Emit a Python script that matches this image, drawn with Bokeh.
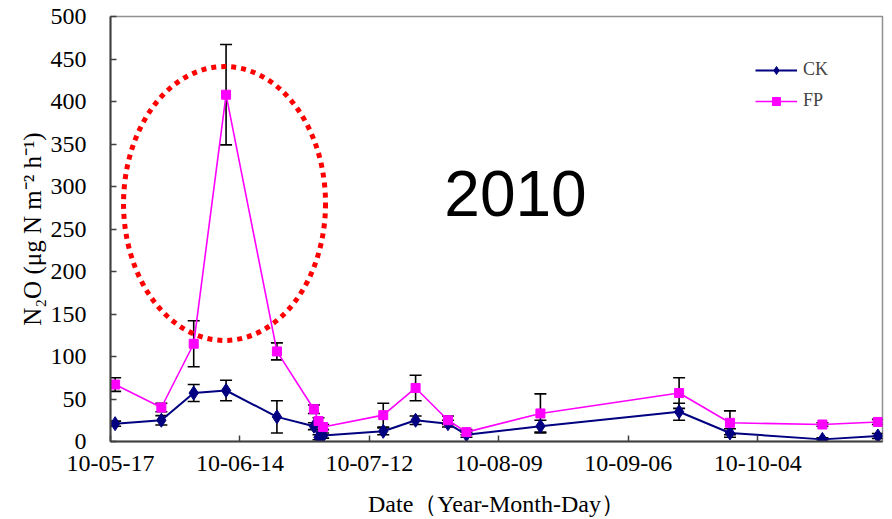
import pandas as pd
from bokeh.plotting import figure
from bokeh.models import (ColumnDataSource, Whisker, TeeHead, FixedTicker,
                          DatetimeTickFormatter, Legend, LegendItem, Label, Range1d)
from bokeh.embed import file_html
from bokeh.resources import INLINE

# ---- data ----
dates = ["2010-05-18", "2010-05-28", "2010-06-04", "2010-06-11", "2010-06-22",
         "2010-06-30", "2010-07-01", "2010-07-02", "2010-07-15", "2010-07-22",
         "2010-07-29", "2010-08-02", "2010-08-18", "2010-09-17", "2010-09-28",
         "2010-10-18", "2010-10-30"]
ck = [21, 25, 57, 60, 29, 18, 5, 7, 12, 25, 21, 8, 18, 35, 10, 2.5, 6.5]
ck_err = [3, 5.5, 10, 12, 19, 4, 3, 3, 4, 5, 4, 3, 7, 10, 5, 2, 3]
fp = [67, 40, 115, 408, 106, 38, 24, 17, 31, 63, 25, 11, 33, 57, 22, 20, 23]
fp_err = [8, 5, 27, 59, 10, 5, 4, 3, 14, 15, 5, 3, 23, 18, 14, 2, 3]
tick_dates = ["2010-05-17", "2010-06-14", "2010-07-12", "2010-08-09",
              "2010-09-06", "2010-10-04"]
x_start, x_end = "2010-05-17", "2010-10-31"
y_ticks = list(range(0, 501, 50))


def ms(s):
    return pd.Timestamp(s).timestamp() * 1000.0


xd = [pd.Timestamp(d) for d in dates]
src_ck = ColumnDataSource(dict(x=xd, y=ck,
                               lo=[v - e for v, e in zip(ck, ck_err)],
                               hi=[v + e for v, e in zip(ck, ck_err)]))
src_fp = ColumnDataSource(dict(x=xd, y=fp,
                               lo=[v - e for v, e in zip(fp, fp_err)],
                               hi=[v + e for v, e in zip(fp, fp_err)]))

SERIF = "Liberation Serif"

p = figure(frame_width=772, frame_height=425, x_axis_type="datetime",
           x_range=Range1d(ms(x_start), ms(x_end)), y_range=Range1d(0, 500),
           output_backend="svg", toolbar_location=None,
           min_border_left=110, min_border_top=16, min_border_right=8,
           min_border_bottom=78)
p.background_fill_color = "white"
p.border_fill_color = "white"
p.outline_line_color = "#909090"
p.outline_line_width = 1.5
p.xgrid.visible = False
p.ygrid.visible = False

for ax in (p.xaxis[0], p.yaxis[0]):
    ax.axis_line_color = "#404040"
    ax.axis_line_width = 2
    ax.major_tick_line_color = "#404040"
    ax.major_tick_line_width = 1.5
    ax.major_tick_in = 6
    ax.major_tick_out = 0
    ax.minor_tick_line_color = None
    ax.major_label_text_font = SERIF
    ax.major_label_text_font_size = "24px"
    ax.major_label_text_color = "black"
    ax.axis_label_text_font = SERIF
    ax.axis_label_text_font_style = "normal"
    ax.axis_label_text_color = "black"

p.xaxis.ticker = FixedTicker(ticks=[ms(t) for t in tick_dates])
fmt = "%y-%m-%d"
p.xaxis.formatter = DatetimeTickFormatter(days=fmt, months=fmt, years=fmt,
                                          hours=fmt, hourmin=fmt)
p.xaxis.major_label_standoff = 14
p.xaxis.axis_label = "Date（Year-Month-Day）"
p.xaxis.axis_label_text_font_size = "24px"
p.xaxis.axis_label_standoff = 17

p.yaxis.ticker = FixedTicker(ticks=y_ticks)
p.yaxis.major_label_standoff = 24
p.yaxis.axis_label = "N₂O (μg N m⁻² h⁻¹)"
p.yaxis.axis_label_text_font_size = "25px"
p.yaxis.axis_label_standoff = 2

# error bars
for src in (src_ck, src_fp):
    w = Whisker(base="x", upper="hi", lower="lo", source=src, dimension="height",
                line_color="black", line_width=1.6, level="underlay",
                upper_head=TeeHead(size=12, line_color="black", line_width=1.6),
                lower_head=TeeHead(size=12, line_color="black", line_width=1.6))
    p.add_layout(w)

NAVY = "#000080"
MAG = "#FF00FF"
l_ck = p.line("x", "y", source=src_ck, line_color=NAVY, line_width=2)
m_ck = p.scatter("x", "y", source=src_ck, marker="diamond",
                 size=14, fill_color=NAVY, line_color=NAVY)
l_fp = p.line("x", "y", source=src_fp, line_color=MAG, line_width=1.6)
m_fp = p.scatter("x", "y", source=src_fp, marker="square", size=9,
                 fill_color=MAG, line_color=MAG)

# dotted red ellipse highlighting the peak
p.ellipse(x=[pd.Timestamp("2010-06-10 16:00")], y=[280], width=[202], height=[274],
          width_units="screen", height_units="screen", fill_alpha=0,
          line_color="#FF0000", line_width=5, line_dash="5 5")

# year label
p.add_layout(Label(x=ms("2010-07-28 05:00"), y=292, text="2010",
                   text_font="Liberation Sans", text_font_size="64px",
                   text_color="black", text_baseline="alphabetic"))

legend = Legend(items=[LegendItem(label="CK", renderers=[l_ck, m_ck]),
                       LegendItem(label="FP", renderers=[l_fp, m_fp])],
                location=(645, 330), border_line_color=None,
                background_fill_alpha=0, padding=0, margin=0, spacing=10,
                glyph_width=42, glyph_height=20, label_height=20,
                label_standoff=6, label_text_font=SERIF,
                label_text_font_size="18px")
p.add_layout(legend)

open("out.html", "w").write(file_html(p, INLINE))
